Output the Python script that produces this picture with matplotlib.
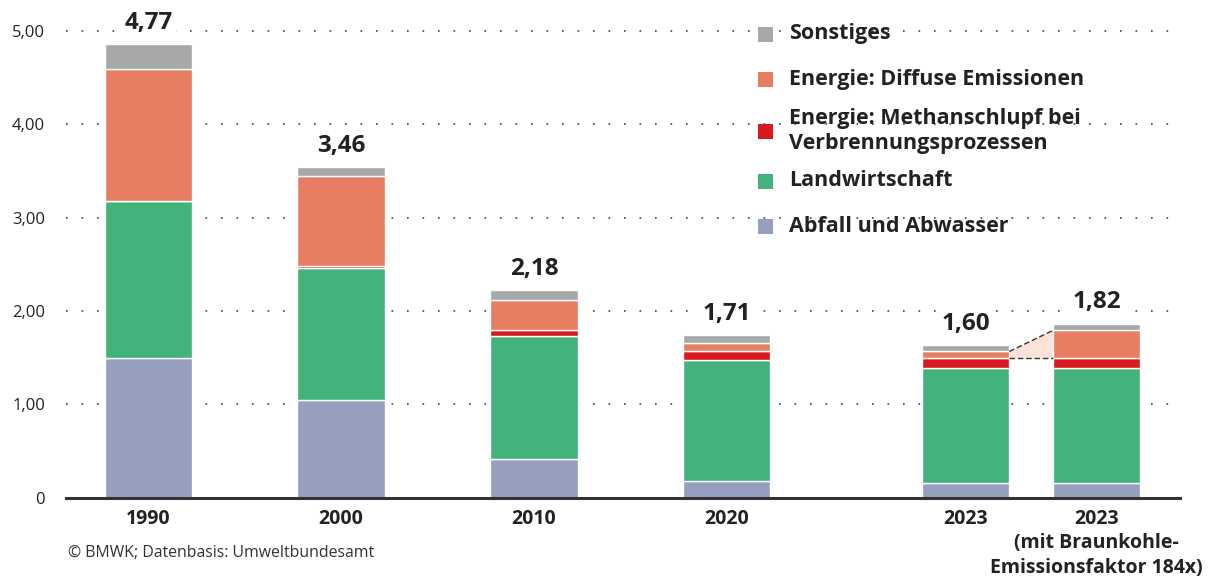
import numpy as np
import matplotlib
matplotlib.use('Agg')
import matplotlib.pyplot as plt
from matplotlib.patches import Polygon, Rectangle

plt.rcParams['font.family'] = ['Open Sans', 'DejaVu Sans']

# Data (Mio. t CO2-Äq. Methan)
categories = ['1990', '2000', '2010', '2020', '2023',
              '2023\n(mit Braunkohle-\nEmissionsfaktor 184x)']
abfall = [1.50, 1.04, 0.41, 0.18, 0.16, 0.16]
landwirtschaft = [1.68, 1.42, 1.32, 1.29, 1.23, 1.23]
methanschlupf = [0.00, 0.02, 0.06, 0.10, 0.10, 0.10]
diffuse = [1.41, 0.97, 0.33, 0.085, 0.075, 0.30]
sonstiges = [0.27, 0.09, 0.10, 0.085, 0.065, 0.07]
totals = [4.77, 3.46, 2.18, 1.71, 1.60, 1.82]

series = [
    ('Abfall und Abwasser', abfall, '#969fbe'),
    ('Landwirtschaft', landwirtschaft, '#43b37b'),
    ('Energie: Methanschlupf bei\nVerbrennungsprozessen', methanschlupf, '#d71920'),
    ('Energie: Diffuse Emissionen', diffuse, '#e77d62'),
    ('Sonstiges', sonstiges, '#a7a8aa'),
]

# layout
xpos = np.array([0, 1, 2, 3, 4.24, 4.92])
width = 0.454
text_col = '#222222'

fig = plt.figure(figsize=(12.08, 5.77), dpi=100)
ax = fig.add_axes([66 / 1208, 1 - 497.5 / 577, 1114 / 1208, 494.5 / 577])
ax.set_xlim(-0.428, 5.353)
ax.set_ylim(0, 5.30)

# dotted gridlines
for yv in [1, 2, 3, 4, 5]:
    ax.axhline(yv, color='#444444', lw=1.2, linestyle=(0, (1, 8.3)), zorder=0)

bottom = np.zeros(len(categories))
for name, vals, col in series:
    vals = np.array(vals)
    ax.bar(xpos, vals, width, bottom=bottom, color=col, edgecolor='white',
           linewidth=1.0, zorder=2)
    bottom += vals

# connector between the two 2023 bars (diffuse emissions)
base = np.array(abfall) + np.array(landwirtschaft) + np.array(methanschlupf)
top_d = base + np.array(diffuse)
x1 = xpos[4] + width / 2
x2 = xpos[5] - width / 2
poly = Polygon([(x1, base[4]), (x1, top_d[4]), (x2, top_d[5]), (x2, base[5])],
               closed=True, facecolor='#fbe3d9', edgecolor='none', zorder=1)
ax.add_patch(poly)
ax.plot([x1, x2], [top_d[4], top_d[5]], color='#333333', lw=1.0, ls=(0, (4, 2)), zorder=3)
ax.plot([x1, x2], [base[4], base[5]], color='#333333', lw=1.0, ls=(0, (4, 2)), zorder=3)

# total labels
for xi, tot, val in zip(xpos, bottom, totals):
    ax.annotate(f'{val:.2f}'.replace('.', ','), (xi, tot), xytext=(0, 15.5),
                textcoords='offset points', ha='center', va='center',
                fontsize=17.5, fontweight='bold', color=text_col, zorder=5,
                bbox=dict(boxstyle='square,pad=0.15', fc='white', ec='none'))

# axes styling
for s in ['top', 'right', 'left']:
    ax.spines[s].set_visible(False)
ax.spines['bottom'].set_color('#333333')
ax.spines['bottom'].set_linewidth(2.2)
ax.spines['bottom'].set_zorder(4)

ax.set_yticks([0, 1, 2, 3, 4, 5])
ax.set_yticklabels(['0', '1,00', '2,00', '3,00', '4,00', '5,00'],
                   fontsize=12, color=text_col)
ax.tick_params(axis='y', length=0, pad=15)
ax.set_xticks(xpos)
ax.set_xticklabels(categories, fontsize=14, fontweight='bold', color=text_col,
                   linespacing=1.3, va='top')
ax.tick_params(axis='x', length=0, pad=8)

# legend (manual)
leg_y = [34, 79, 131, 181, 226]
for (name, vals, col), yp in zip(series[::-1], leg_y):
    fig.patches.append(Rectangle((758 / 1208, 1 - (yp + 7.5) / 577), 15 / 1208, 15 / 577,
                                 transform=fig.transFigure, facecolor=col,
                                 edgecolor='none'))
    fig.text(789 / 1208, 1 - yp / 577, name, ha='left', va='center',
             fontsize=15.5, fontweight='bold', color=text_col, linespacing=1.2)

fig.text(68 / 1208, 1 - 553 / 577, '© BMWK; Datenbasis: Umweltbundesamt',
         ha='left', va='center', fontsize=11.4, color='#333333')

fig.savefig('out.png', dpi=100)
